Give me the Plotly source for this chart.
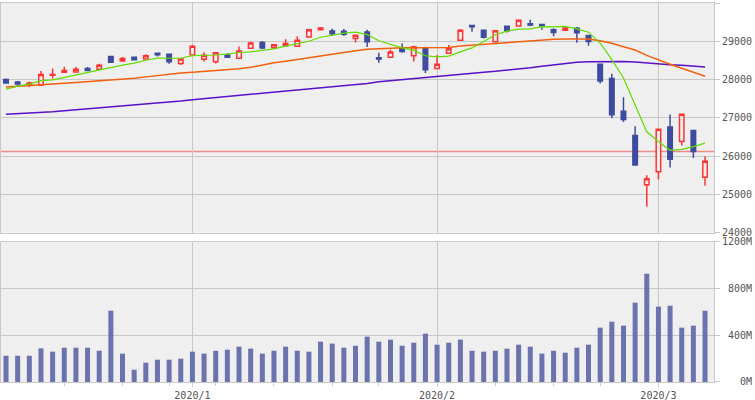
import plotly.graph_objects as go

# daily candles, Dec 2019 - Mar 2020
dates = [
    "2019-12-09", "2019-12-10", "2019-12-11", "2019-12-12", "2019-12-13",
    "2019-12-16", "2019-12-17", "2019-12-18", "2019-12-19", "2019-12-20",
    "2019-12-23", "2019-12-24", "2019-12-26", "2019-12-27", "2019-12-30",
    "2019-12-31",
    "2020-01-02", "2020-01-03", "2020-01-06", "2020-01-07", "2020-01-08",
    "2020-01-09", "2020-01-10", "2020-01-13", "2020-01-14", "2020-01-15",
    "2020-01-16", "2020-01-17", "2020-01-21", "2020-01-22", "2020-01-23",
    "2020-01-24", "2020-01-27", "2020-01-28", "2020-01-29", "2020-01-30",
    "2020-01-31",
    "2020-02-03", "2020-02-04", "2020-02-05", "2020-02-06", "2020-02-07",
    "2020-02-10", "2020-02-11", "2020-02-12", "2020-02-13", "2020-02-14",
    "2020-02-18", "2020-02-19", "2020-02-20", "2020-02-21", "2020-02-24",
    "2020-02-25", "2020-02-26", "2020-02-27", "2020-02-28",
    "2020-03-02", "2020-03-03", "2020-03-04", "2020-03-05", "2020-03-06",
]

opens = [28000, 27935, 27870, 27860, 28115, 28190, 28200, 28290, 28270, 28600,
         28485, 28580, 28535, 28690, 28660, 28420,
         28640, 28530, 28465, 28640, 28556, 28820, 28970, 28830, 28880, 28870,
         29110, 29300, 29270, 29260, 29070, 29240, 28570, 28580, 28830, 28620,
         28820,
         28290, 28690, 29030, 29410, 29290, 28990, 29390, 29400, 29460, 29440,
         29300, 29290, 29340, 29150, 28400, 28030, 27170, 26540, 25250,
         25590, 26760, 26380, 26670, 25450]
highs = [28025, 27960, 27950, 28224, 28290, 28337, 28330, 28325, 28410, 28610,
         28590, 28605, 28660, 28710, 28680, 28540,
         28900, 28716, 28708, 28686, 28866, 28990, 29010, 28920, 29050, 29130,
         29310, 29373, 29330, 29320, 29180, 29300, 28700, 28780, 28940, 28880,
         28860,
         28640, 28900, 29320, 29420, 29300, 29290, 29415, 29568, 29560, 29460,
         29340, 29400, 29370, 29160, 28410, 28150, 27540, 26780, 25500,
         26706, 27085, 27100, 26680, 25994]
lows = [27895, 27810, 27800, 27832, 28030, 28190, 28195, 28225, 28260, 28440,
        28470, 28505, 28530, 28600, 28410, 28380,
        28627, 28475, 28418, 28565, 28540, 28820, 28795, 28820, 28870, 28870,
        29100, 29280, 29140, 29140, 28970, 28850, 28440, 28580, 28700, 28470,
        28170,
        28280, 28690, 29010, 29250, 29070, 28970, 29230, 29400, 29390, 29300,
        29130, 29280, 28960, 28880, 27900, 26990, 26890, 25750, 24680,
        25391, 25700, 26280, 25950, 25226]
closes = [27910, 27882, 27911, 28132, 28135, 28236, 28267, 28239, 28377, 28455,
          28552, 28515, 28621, 28645, 28462, 28538,
          28869, 28635, 28703, 28584, 28745, 28957, 28824, 28907, 28940, 29030,
          29298, 29348, 29196, 29186, 29160, 28990, 28536, 28723, 28734, 28859,
          28256,
          28400, 28808, 29291, 29380, 29103, 29277, 29276, 29551, 29423, 29398,
          29232, 29348, 29220, 28992, 27961, 27081, 26958, 25767, 25409,
          26703, 25917, 27091, 26121, 25865]

# volume in millions of shares
volume = [225, 225, 225, 288, 260, 294, 294, 294, 268, 611,
          243, 105, 166, 191, 191, 200,
          260, 243, 268, 277, 303, 286, 243, 268, 303, 268,
          260, 346, 329, 294, 311, 389, 346, 363, 311, 337,
          414,
          320, 337, 363, 268, 260, 268, 286, 320, 303, 243,
          268, 251, 294, 320, 466, 517, 483, 680, 928,
          646, 654, 466, 483, 611]

ma5 = [27751, 27827, 27879, 27970, 27994, 28059, 28136, 28202, 28251, 28315,
       28378, 28428, 28504, 28558, 28559, 28557, 28627, 28630, 28642, 28666,
       28707, 28725, 28763, 28803, 28875, 28932, 29000, 29105, 29162, 29212,
       29238, 29176, 29014, 28919, 28829, 28769, 28622, 28595, 28612, 28723,
       28827, 28996, 29172, 29265, 29317, 29326, 29385, 29376, 29391, 29324,
       29238, 28951, 28521, 28042, 27352, 26635, 26384, 26151, 26178, 26248,
       26340]
ma25 = [27805, 27828, 27852, 27875, 27888, 27902, 27923, 27944, 27966, 27988,
        28010, 28032, 28070, 28110, 28140, 28171, 28189, 28210, 28225, 28241,
        28280, 28320, 28380, 28440, 28480, 28519, 28567, 28615, 28663, 28712,
        28751, 28790, 28806, 28820, 28832, 28832, 28832, 28832, 28840, 28876,
        28895, 28911, 28933, 28955, 28985, 29010, 29035, 29051, 29060, 29065,
        29060, 29015, 28947, 28858, 28772, 28633, 28511, 28398, 28294, 28197,
        28085]
ma75 = [27092, 27106, 27120, 27140, 27160, 27184, 27208, 27232, 27256, 27280,
        27305, 27329, 27353, 27379, 27405, 27437, 27470, 27498, 27525, 27552,
        27580, 27607, 27635, 27662, 27690, 27717, 27745, 27772, 27800, 27830,
        27860, 27900, 27940, 27970, 28000, 28025, 28050, 28078, 28104, 28130,
        28160, 28190, 28215, 28241, 28270, 28310, 28350, 28390, 28430, 28455,
        28468, 28472, 28472, 28470, 28460, 28435, 28400, 28385, 28372, 28345,
        28328]

prev_close = 26121

price_ticks = [24000, 25000, 26000, 27000, 28000, 29000, 30000]
vol_ticks = [0, 400, 800, 1200]
vol_labels = ["0M", "400M", "800M", "1200M"]
month_starts = ["2020-01-02", "2020-02-03", "2020-03-02"]
month_labels = ["2020/1", "2020/2", "2020/3"]
week_starts = ["2019-12-16", "2019-12-23", "2019-12-30", "2020-01-06",
               "2020-01-13", "2020-01-21", "2020-01-27", "2020-02-03",
               "2020-02-10", "2020-02-18", "2020-02-24", "2020-03-02"]

pos = list(range(len(dates)))
month_pos = [dates.index(d) for d in month_starts]
week_pos = [dates.index(d) for d in week_starts]

GRID = "#c8c8c8"
BG = "#efefef"
RED = "#ff3333"
BLUE = "#3e4b9e"

fig = go.Figure()

fig.add_trace(go.Scatter(x=pos, y=ma75, mode="lines", line=dict(color="#5a0fc8", width=1.5), hoverinfo="skip"))
fig.add_trace(go.Scatter(x=pos, y=ma25, mode="lines", line=dict(color="#f45f0c", width=1.5), hoverinfo="skip"))
fig.add_trace(go.Scatter(x=pos, y=ma5, mode="lines", line=dict(color="#62dc00", width=1.2), hoverinfo="skip"))

fig.add_trace(go.Candlestick(
    x=pos, open=opens, high=highs, low=lows, close=closes,
    increasing=dict(line=dict(color=RED, width=1.5), fillcolor=BG),
    decreasing=dict(line=dict(color=BLUE, width=1.5), fillcolor=BLUE),
    whiskerwidth=0,
))

fig.add_trace(go.Bar(x=pos, y=volume, xaxis="x2", yaxis="y2",
                     marker=dict(color="#6b73ae", line=dict(width=0)), width=0.43))

fig.add_shape(type="line", xref="x domain", yref="y", x0=0, x1=1,
              y0=prev_close, y1=prev_close, layer="below",
              line=dict(color="#f28a8a", width=1.5))

font = dict(family="DejaVu Sans Mono", size=10, color="#555555")
xcommon = dict(
    range=[-0.43, 60.77], tickmode="array", tickvals=month_pos, showgrid=True,
    gridcolor=GRID, showline=True, mirror=True, linecolor=GRID, zeroline=False,
    tickfont=font, automargin=False,
)
ycommon = dict(
    side="right", showgrid=True, gridcolor=GRID, showline=True, mirror=True,
    linecolor=GRID, zeroline=False, ticks="outside", ticklen=5, tickcolor=GRID,
    tickfont=font, automargin=False, tickmode="array",
)

fig.update_layout(
    width=755, height=400,
    margin=dict(l=1, r=41, t=3, b=18),
    paper_bgcolor="white", plot_bgcolor=BG,
    showlegend=False, boxgap=0.45, boxgroupgap=0.3,
    xaxis=dict(**xcommon, anchor="y", showticklabels=False, ticks="",
               rangeslider=dict(visible=False)),
    xaxis2=dict(**xcommon, anchor="y2", matches="x", ticktext=month_labels,
                ticks="outside", ticklen=4, tickcolor=GRID,
                minor=dict(tickmode="array", tickvals=week_pos, ticks="outside",
                           ticklen=3, tickcolor=GRID)),
    yaxis=dict(**ycommon, domain=[0.394, 1], range=[24000, 30000],
               tickvals=price_ticks, ticktext=[str(v) for v in price_ticks]),
    yaxis2=dict(**ycommon, domain=[0, 0.3694], range=[0, 1200], tickvals=vol_ticks,
                ticktext=[s.rjust(5, "\u00a0") for s in vol_labels]),
)

fig.write_html("out.html", config={"displayModeBar": False},
               post_script="document.body.style.margin = '0';")
